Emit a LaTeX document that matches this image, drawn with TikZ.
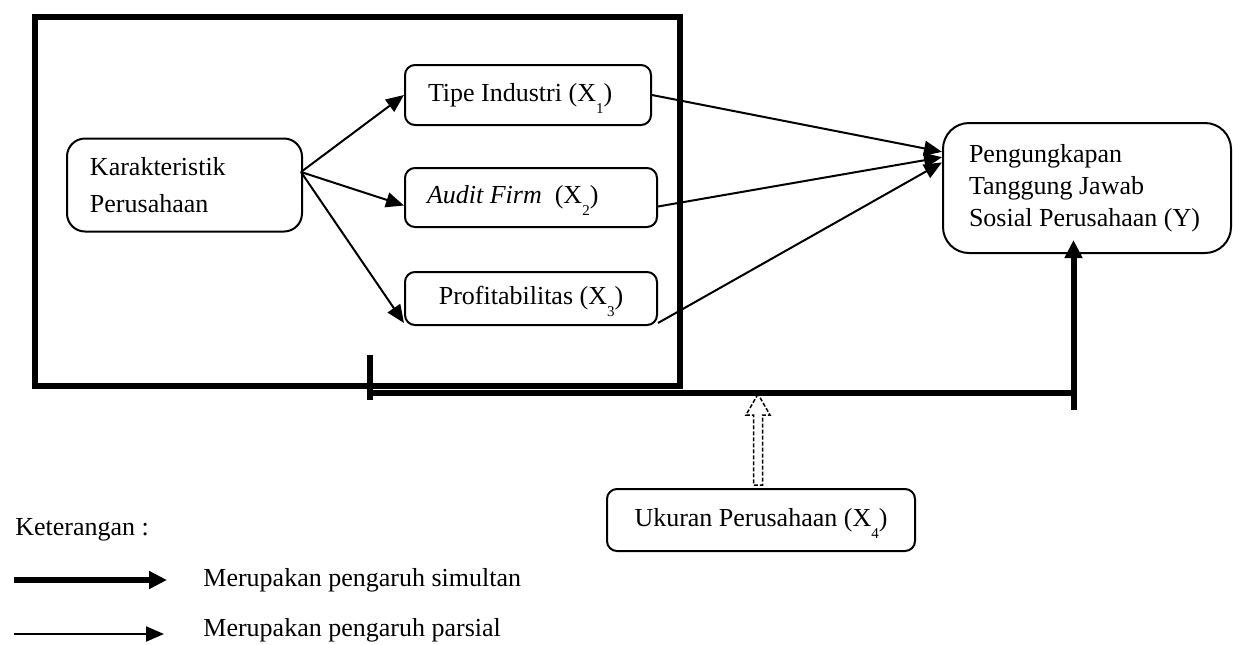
\documentclass[tikz,border=0pt]{standalone}
\usepackage{fontspec}
\setmainfont{Liberation Serif}
\usetikzlibrary{arrows.meta,calc}

\newlength{\du}
\setlength{\du}{0.5pt}
\newcommand{\xsub}[1]{\raisebox{-6pt}[0pt][0pt]{\fontsize{7.5}{7.5}\selectfont #1}}

\tikzset{
  boxnode/.style={draw=dialinecolor, line width=1pt, rounded corners=5pt, inner sep=0pt,
    font=\fontsize{13}{16}\selectfont},
  thinarrow/.style={draw=dialinecolor, line width=1pt, -{Triangle[length=9pt,width=7.5pt]}},
  thickarrow/.style={draw=dialinecolor, line width=3pt, -{Triangle[length=9pt,width=8.5pt]}},
  legendtext/.style={anchor=west, inner sep=0pt, font=\fontsize{13}{16}\selectfont},
}

\begin{document}
\begin{tikzpicture}
\pgftransformxscale{1.000000}
\pgftransformyscale{-1.000000}
\definecolor{dialinecolor}{rgb}{0.000000, 0.000000, 0.000000}
\pgfsetstrokecolor{dialinecolor}
\useasboundingbox (0\du,0\du) rectangle (1233\du,644\du);
% frame round the characteristics
\draw[line width=3pt, dialinecolor] (34.5\du,17\du) rectangle (680\du,385.5\du);
\node[boxnode, rounded corners=9pt, minimum width=235\du, minimum height=93\du, text width=189\du, align=flush left,
  font=\fontsize{13}{18.5}\selectfont] (kar) at (184.5\du,185\du){Karakteristik\\Perusahaan};
\node[boxnode, minimum width=246\du, minimum height=60\du, text width=200\du, align=flush left] (x1) at (528\du,95\du){Tipe Industri (X\xsub{1})};
\node[boxnode, minimum width=252\du, minimum height=59\du, text width=208\du, align=flush left] (x2) at (531\du,197.5\du){\textit{Audit Firm}\ \ (X\xsub{2})};
\node[boxnode, minimum width=252\du, minimum height=53\du, text width=208\du, align=flush center] (x3) at (531\du,298.5\du){Profitabilitas (X\xsub{3})};
\node[boxnode, rounded corners=13pt, minimum width=288\du, minimum height=130\du, text width=236\du, align=flush left] (y) at (1087\du,188\du){Pengungkapan\\Tanggung Jawab\\\mbox{Sosial Perusahaan (Y)}};
\node[boxnode, minimum width=308\du, minimum height=62\du, text width=280\du, align=flush center] (uk) at (761\du,520\du){Ukuran Perusahaan (X\xsub{4})};
% partial arrows
\coordinate (kx) at (301\du,172\du);
\draw[thinarrow] (kx)--(x1.west);
\draw[thinarrow] (kx)--($(x2.west)+(0\du,8\du)$);
\draw[thinarrow] (kx)--($(x3.south west)+(0\du,-3\du)$);
\draw[thinarrow] (x1.east)--(y.166);
\draw[thinarrow] ($(x2.east)+(0\du,9\du)$)--(y.168);
\draw[thinarrow] ($(x3.south east)+(0\du,-3\du)$)--(y.170);
% simultaneous line
\coordinate (bl) at (370\du,393\du);
\coordinate (br) at (1073.5\du,393\du);
\coordinate (tt) at (370\du,355\du);
\coordinate (tb) at (370\du,400\du);
\coordinate (vb) at (1073.5\du,410\du);
\draw[line width=3pt, dialinecolor] (bl)--(br);
\draw[line width=3pt, dialinecolor] (tt)--(tb);
\draw[thickarrow] (vb)--($(vb |- y.south)+(0\du,-14\du)$);
% hollow moderating arrow
\coordinate (ht) at (758\du,394\du);
\coordinate (hb) at (758\du,485\du);
\draw[dialinecolor, line width=0.75pt, dash pattern=on 2pt off 1pt]
  (ht)--++(-12\du,21\du)--++(7.5\du,0\du)--($(hb)+(-4.5\du,0\du)$)--($(hb)+(4.5\du,0\du)$)
  --($(ht)+(4.5\du,21\du)$)--++(7.5\du,0\du)--cycle;
% legend
\node[legendtext] (ket) at (15\du,530\du){Keterangan :};
\node[legendtext] (sim) at (203\du,580\du){Merupakan pengaruh simultan};
\node[legendtext] (par) at (203\du,630\du){Merupakan pengaruh parsial};
\coordinate (sa) at (14\du,580\du);
\coordinate (sb) at (167\du,580\du);
\coordinate (pa) at (14\du,634\du);
\coordinate (pb) at (164\du,634\du);
\draw[thickarrow] (sa)--(sb);
\draw[thinarrow] (pa)--(pb);
\end{tikzpicture}
\end{document}
